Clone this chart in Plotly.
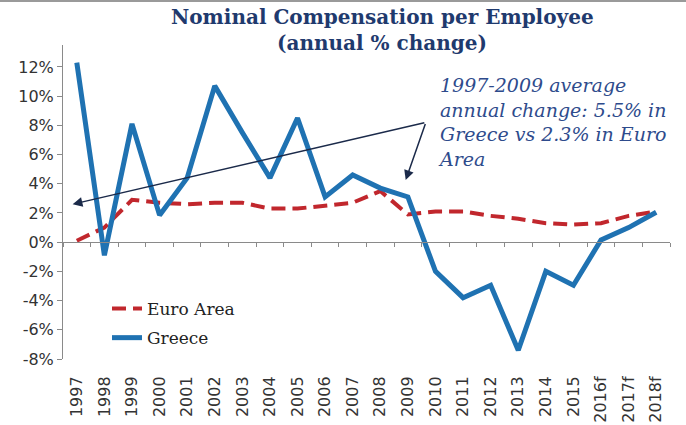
import plotly.graph_objects as go

years = ["1997", "1998", "1999", "2000", "2001", "2002", "2003", "2004", "2005", "2006", "2007",
         "2008", "2009", "2010", "2011", "2012", "2013", "2014", "2015", "2016f", "2017f", "2018f"]
greece = [12.3, -0.9, 8.1, 1.85, 4.4, 10.7, 7.5, 4.4, 8.5, 3.1, 4.6,
          3.7, 3.1, -2.0, -3.8, -2.95, -7.4, -2.0, -2.95, 0.15, 1.0, 2.05]
euro_area = [0.1, 1.0, 2.9, 2.7, 2.6, 2.7, 2.7, 2.3, 2.3, 2.5, 2.7,
             3.5, 1.9, 2.1, 2.1, 1.8, 1.6, 1.3, 1.2, 1.3, 1.8, 2.1]
y_ticks = [-8, -6, -4, -2, 0, 2, 4, 6, 8, 10, 12]
y_labels = [f"{v}%" for v in y_ticks]

Y_MIN, Y_MAX = -8, 13.5
W, H = 686, 425
ML, MR, MT, MB = 63, 16, 45, 66
PW, PH = W - ML - MR, H - MT - MB


def px_x(p):
    return (p - ML) / PW


def px_y(p):
    return (H - MB - p) / PH


fig = go.Figure()
fig.add_trace(go.Scatter(x=years, y=euro_area, mode="lines", name="Euro Area",
                         line=dict(color="#c1272d", width=4, dash="14px,7px"),
                         legendgroup="a"))
fig.add_trace(go.Scatter(x=years, y=greece, mode="lines", name="Greece",
                         line=dict(color="#1f72b2", width=5), legendgroup="b"))
# helper trace so the zero-line axis is drawn
fig.add_trace(go.Scatter(x=years, y=[None] * len(years), xaxis="x2", showlegend=False,
                         hoverinfo="skip"))

annot_font = dict(family="DejaVu Serif", size=19, color="#2e4b8c", style="italic")
title_font = dict(family="DejaVu Serif", size=20, color="#1f3a6e")

fig.update_layout(
    width=W, height=H,
    margin=dict(l=ML, r=MR, t=MT, b=MB),
    paper_bgcolor="white", plot_bgcolor="white",
    showlegend=True,
    legend=dict(x=px_x(107), y=px_y(291), xanchor="left", yanchor="top",
                bgcolor="rgba(0,0,0,0)", tracegroupgap=4,
                font=dict(family="DejaVu Serif", size=17, color="#222")),
    xaxis=dict(type="category", range=[-0.5, len(years) - 0.5], showline=False,
               showgrid=False, zeroline=False, tickangle=-90, automargin=False,
               ticks="outside", ticklen=10, tickcolor="rgba(0,0,0,0)",
               tickfont=dict(family="DejaVu Sans", size=16, color="#333")),
    xaxis2=dict(type="category", overlaying="x", anchor="free",
                position=(0 - Y_MIN) / (Y_MAX - Y_MIN), automargin=False,
                range=[-0.5, len(years) - 0.5], showline=True, linecolor="#8a8a8a",
                linewidth=1, ticks="outside", ticklen=4, tickcolor="#8a8a8a",
                tickson="boundaries", showticklabels=False, showgrid=False,
                zeroline=False, side="bottom"),
    yaxis=dict(range=[Y_MIN, Y_MAX], tickvals=y_ticks, ticktext=y_labels,
               showgrid=False, zeroline=False, showline=True, linecolor="#8a8a8a",
               ticks="outside", ticklen=5, tickcolor="#8a8a8a", automargin=False,
               tickfont=dict(family="DejaVu Sans", size=16, color="#333")),
    shapes=[dict(type="line", xref="paper", yref="paper", x0=px_x(0), x1=px_x(W),
                 y0=px_y(1), y1=px_y(1), line=dict(color="#9a9a9a", width=2))],
    annotations=[
        dict(x=px_x(382), y=px_y(17), xref="paper", yref="paper", showarrow=False,
             xanchor="center", yanchor="middle",
             text="<b>Nominal Compensation per Employee</b>", font=title_font),
        dict(x=px_x(382), y=px_y(43), xref="paper", yref="paper", showarrow=False,
             xanchor="center", yanchor="middle",
             text="<b>(annual % change)</b>", font=title_font),
        dict(x=-0.15, y=2.6, ax=12.65, ay=8.2, xref="x", yref="y", axref="x", ayref="y",
             text="", showarrow=True, arrowhead=2, arrowsize=1.3, arrowwidth=1.5,
             arrowcolor="#1b2a4a"),
        dict(x=11.92, y=4.25, ax=12.65, ay=8.2, xref="x", yref="y", axref="x", ayref="y",
             text="", showarrow=True, arrowhead=2, arrowsize=1.3, arrowwidth=1.5,
             arrowcolor="#1b2a4a"),
        dict(x=px_x(436), y=px_y(72), xref="paper", yref="paper",
             xanchor="left", yanchor="top", align="left", showarrow=False,
             text="1997-2009 average<br>annual change: 5.5% in<br>Greece vs 2.3% in Euro<br>Area",
             font=annot_font),
    ],
)

fig.write_html("out.html", config={"displayModeBar": False},
               post_script="document.body.style.margin='0';document.body.style.overflow='hidden';")
